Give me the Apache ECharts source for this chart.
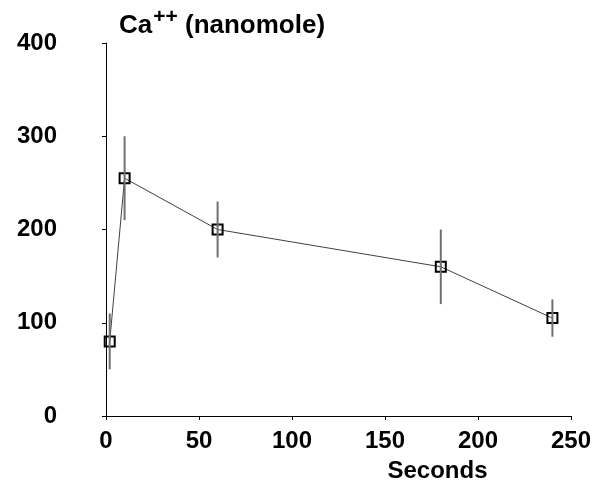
<!DOCTYPE html>
<html>
<head>
<meta charset="utf-8">
<script src="https://cdn.jsdelivr.net/npm/echarts@6/dist/echarts.min.js"></script>
<style>html,body{margin:0;padding:0;background:#fff}#c{width:602px;height:494px}</style>
</head>
<body>
<div id="c"></div>
<script>
const seconds = [2, 10, 60, 180, 240];
const calcium = [80, 255, 200, 160, 105];
const errLow = [50, 210, 170, 120, 85];
const errHigh = [110, 300, 230, 200, 125];
const xTicks = [0, 50, 100, 150, 200, 250];
const yTicks = [0, 100, 200, 300, 400];

const FONT = 'Liberation Sans, Arial, sans-serif';
const chart = echarts.init(document.getElementById('c'));
chart.setOption({
  animation: false,
  backgroundColor: '#fff',
  grid: {left: 106, right: 31, top: 43, bottom: 78, containLabel: false},
  title: {
    text: '{b|Ca}{s|++}{b| (nanomole)}',
    left: 114, top: 2,
    textStyle: {
      rich: {
        b: {fontFamily: FONT, fontWeight: 'bold', fontSize: 26, color: '#000', verticalAlign: 'bottom', lineHeight: 32},
        s: {fontFamily: FONT, fontWeight: 'bold', fontSize: 21, color: '#000', verticalAlign: 'top', lineHeight: 32, padding: [0, 0, 12, 1]}
      }
    }
  },
  xAxis: {
    type: 'value', min: xTicks[0], max: xTicks[xTicks.length - 1], interval: 50,
    axisLine: {lineStyle: {color: '#000', width: 1}},
    axisTick: {show: true, length: 4, lineStyle: {color: '#000'}},
    splitLine: {show: false},
    axisLabel: {fontFamily: FONT, fontWeight: 'bold', fontSize: 24, color: '#000', margin: 13},
    name: 'Seconds', nameLocation: 'middle', nameGap: 43,
    nameTextStyle: {fontFamily: FONT, fontWeight: 'bold', fontSize: 24, color: '#000', padding: [0, 0, 0, 198]}
  },
  yAxis: {
    type: 'value', min: yTicks[0], max: yTicks[yTicks.length - 1], interval: 100,
    axisLine: {show: true, lineStyle: {color: '#000', width: 1}},
    axisTick: {show: true, length: 4, lineStyle: {color: '#000'}},
    splitLine: {show: false},
    axisLabel: {fontFamily: FONT, fontWeight: 'bold', fontSize: 24, color: '#000', margin: 49}
  },
  series: [
    {
      type: 'line',
      data: seconds.map((s, i) => [s, calcium[i]]),
      symbol: 'rect', symbolSize: 10,
      lineStyle: {color: '#404040', width: 1},
      itemStyle: {color: 'rgba(255,255,255,0)', borderColor: '#000', borderWidth: 2},
      z: 2
    },
    {
      type: 'custom',
      data: seconds.map((s, i) => [s, errLow[i], errHigh[i]]),
      renderItem: function (params, api) {
        const lo = api.coord([api.value(0), api.value(1)]);
        const hi = api.coord([api.value(0), api.value(2)]);
        return {type: 'line', shape: {x1: lo[0], y1: lo[1], x2: hi[0], y2: hi[1]},
          style: {stroke: '#707070', lineWidth: 2}};
      },
      z: 3
    }
  ]
});
</script>
</body>
</html>
